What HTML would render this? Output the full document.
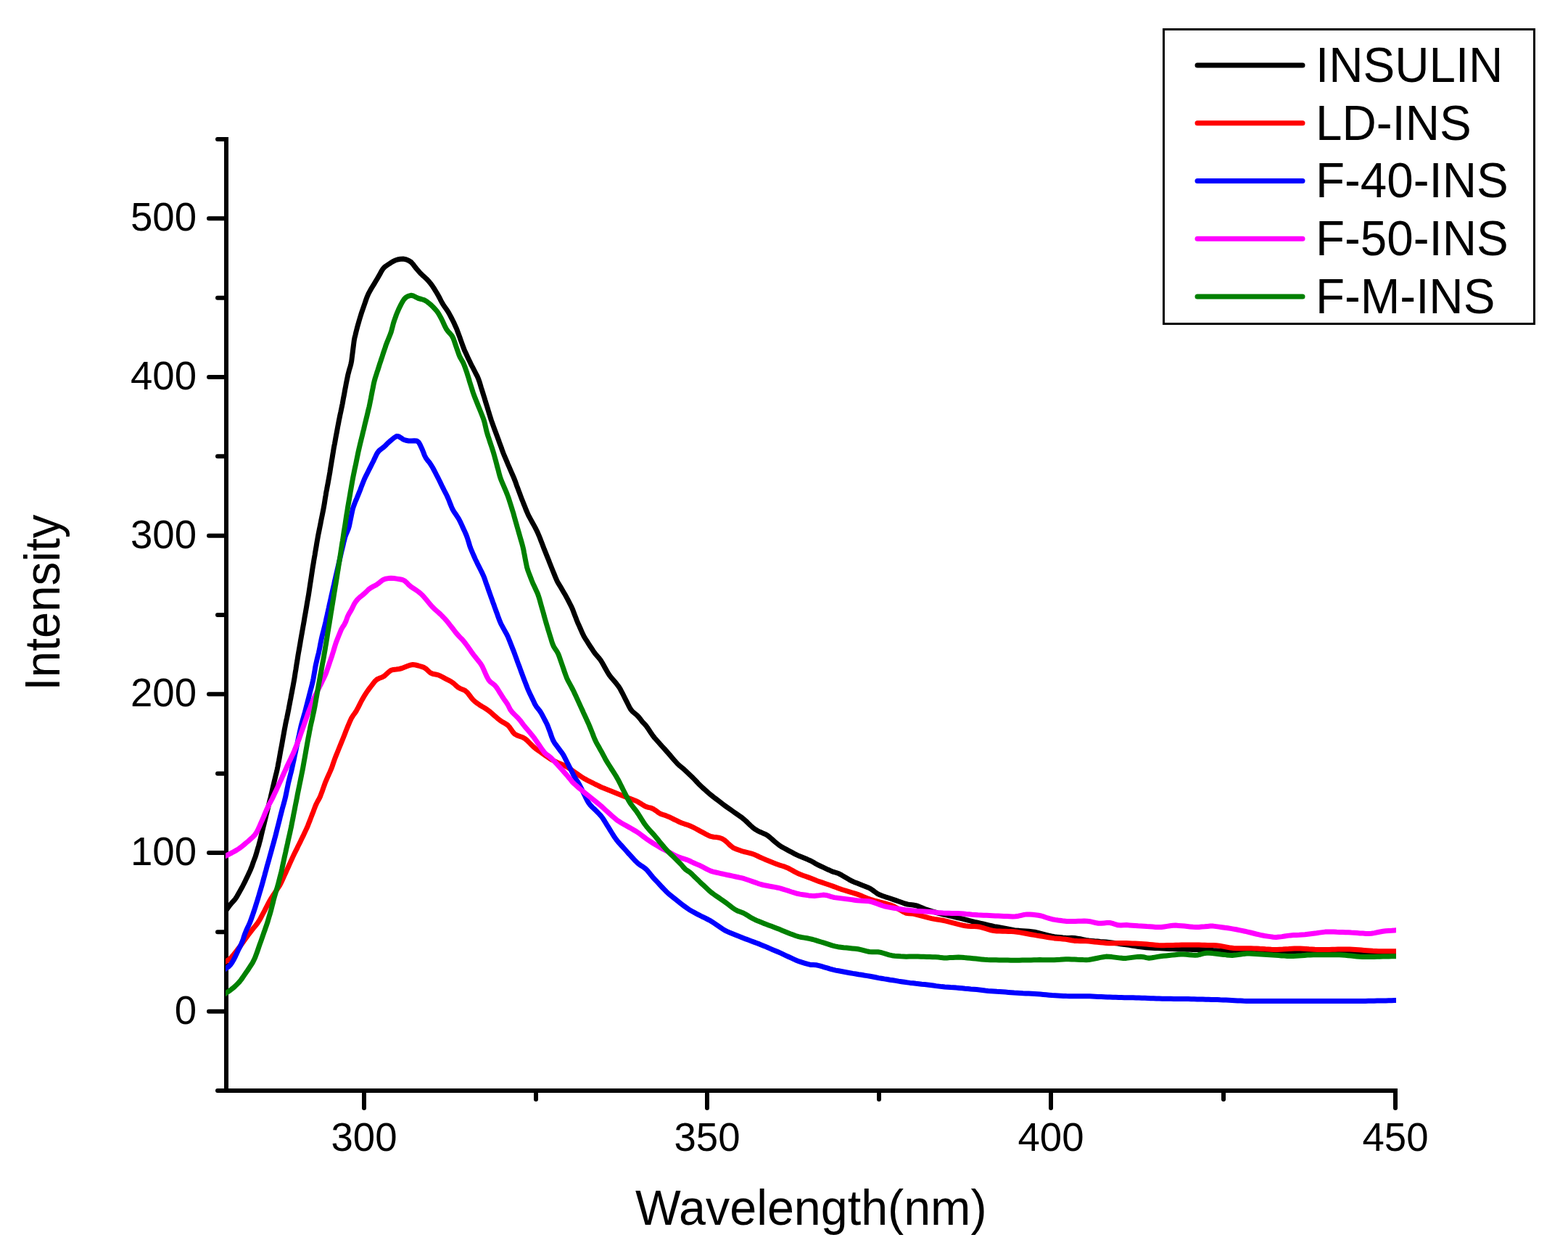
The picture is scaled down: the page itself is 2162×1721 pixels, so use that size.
<!DOCTYPE html>
<html><head><meta charset="utf-8">
<style>html,body{margin:0;padding:0;background:#fff;overflow:hidden}svg{display:block}text{font-family:"Liberation Sans",sans-serif;fill:#000}</style></head><body>
<svg width="2162" height="1721" viewBox="0 0 2162 1721">
<rect width="100%" height="100%" fill="#fff"/>
<defs><clipPath id="pa"><rect x="311" y="0" width="1614" height="1721"/></clipPath></defs>
<g fill="#000" shape-rendering="crispEdges">
<rect x="309" y="189" width="6" height="1318"/>
<rect x="309" y="1501" width="1618" height="6"/>
</g>
<g stroke="#000" stroke-width="6" stroke-linecap="round" fill="none">
<line x1="300" y1="1504.0" x2="312" y2="1504.0"/>
<line x1="288" y1="1394.7" x2="312" y2="1394.7"/>
<line x1="300" y1="1285.3" x2="312" y2="1285.3"/>
<line x1="288" y1="1176.0" x2="312" y2="1176.0"/>
<line x1="300" y1="1066.7" x2="312" y2="1066.7"/>
<line x1="288" y1="957.3" x2="312" y2="957.3"/>
<line x1="300" y1="848.0" x2="312" y2="848.0"/>
<line x1="288" y1="738.7" x2="312" y2="738.7"/>
<line x1="300" y1="629.3" x2="312" y2="629.3"/>
<line x1="288" y1="520.0" x2="312" y2="520.0"/>
<line x1="300" y1="410.7" x2="312" y2="410.7"/>
<line x1="288" y1="301.3" x2="312" y2="301.3"/>
<line x1="300" y1="192.0" x2="312" y2="192.0"/>
<line x1="502" y1="1504" x2="502" y2="1528"/>
<line x1="739" y1="1504" x2="739" y2="1516"/>
<line x1="975" y1="1504" x2="975" y2="1528"/>
<line x1="1212" y1="1504" x2="1212" y2="1516"/>
<line x1="1449" y1="1504" x2="1449" y2="1528"/>
<line x1="1687" y1="1504" x2="1687" y2="1516"/>
<line x1="1924" y1="1504" x2="1924" y2="1528"/>
</g>
<g fill="#000" shape-rendering="crispEdges">
<rect x="309" y="189" width="6" height="1318"/>
<rect x="309" y="1501" width="1618" height="6"/>
</g>
<g clip-path="url(#pa)" fill="none" stroke-width="7" stroke-linejoin="round">
<polyline stroke="#000000" points="306.0,1263.5 307.7,1261.1 309.9,1257.9 312.3,1254.6 314.6,1251.4 317.0,1248.2 319.6,1245.1 322.3,1242.2 324.8,1239.1 326.9,1235.8 328.9,1232.3 330.8,1228.8 332.8,1225.3 334.7,1221.8 336.5,1218.2 338.3,1214.6 340.0,1211.0 341.7,1207.4 343.4,1203.8 345.1,1200.1 346.6,1196.4 348.0,1192.7 349.3,1188.9 350.7,1185.1 352.1,1181.4 353.3,1177.6 354.4,1173.7 355.5,1169.9 356.7,1166.0 357.7,1162.2 358.8,1158.3 359.7,1154.4 360.6,1150.5 361.5,1146.6 362.5,1142.7 363.4,1138.8 364.4,1134.9 365.3,1131.1 366.3,1127.2 367.2,1123.3 368.2,1119.4 369.2,1115.5 370.1,1111.6 371.1,1107.7 372.0,1103.9 373.0,1100.0 373.9,1096.1 374.8,1092.2 375.7,1088.3 376.6,1084.4 377.5,1080.5 378.4,1076.6 379.4,1072.7 380.3,1068.8 381.3,1064.9 382.2,1061.0 383.0,1057.1 383.7,1053.1 384.5,1049.2 385.2,1045.3 385.9,1041.3 386.6,1037.4 387.3,1033.5 388.1,1029.5 388.8,1025.6 389.5,1021.6 390.2,1017.7 390.9,1013.8 391.6,1009.8 392.3,1005.9 393.1,1001.9 393.8,998.0 394.6,994.1 395.5,990.2 396.3,986.3 397.1,982.3 397.9,978.4 398.6,974.5 399.4,970.5 400.1,966.6 400.9,962.7 401.6,958.7 402.4,954.8 403.1,950.9 403.9,946.9 404.6,943.0 405.3,939.1 406.0,935.1 406.6,931.2 407.2,927.2 407.9,923.3 408.5,919.3 409.1,915.4 409.8,911.4 410.4,907.4 411.0,903.5 411.7,899.5 412.4,895.6 413.1,891.7 413.8,887.7 414.4,883.8 415.1,879.8 415.8,875.9 416.5,871.9 417.2,868.0 417.9,864.0 418.6,860.1 419.3,856.2 419.9,852.2 420.6,848.3 421.3,844.3 422.0,840.4 422.7,836.4 423.3,832.5 424.0,828.5 424.7,824.6 425.4,820.6 426.0,816.7 426.6,812.7 427.2,808.8 427.8,804.8 428.4,800.9 429.0,796.9 429.6,792.9 430.2,789.0 430.8,785.0 431.4,781.1 432.1,777.1 432.7,773.2 433.4,769.2 434.1,765.3 434.7,761.3 435.4,757.4 436.1,753.4 436.7,749.5 437.4,745.5 438.1,741.6 438.8,737.7 439.6,733.7 440.4,729.8 441.2,725.9 442.0,722.0 442.7,718.0 443.5,714.1 444.3,710.2 445.1,706.3 445.9,702.3 446.6,698.4 447.3,694.4 447.9,690.5 448.5,686.5 449.2,682.6 449.8,678.6 450.6,674.7 451.3,670.8 452.1,666.8 452.8,662.9 453.5,659.0 454.2,655.0 454.9,651.1 455.5,647.1 456.1,643.2 456.8,639.2 457.4,635.3 458.1,631.3 458.7,627.4 459.4,623.4 460.0,619.5 460.7,615.5 461.5,611.6 462.2,607.6 462.9,603.7 463.6,599.8 464.4,595.8 465.1,591.9 465.8,588.0 466.6,584.0 467.3,580.1 468.1,576.2 468.9,572.2 469.8,568.3 470.6,564.4 471.4,560.5 472.2,556.6 472.9,552.6 473.6,548.7 474.4,544.8 475.1,540.8 475.8,536.9 476.6,532.9 477.3,529.0 478.1,525.1 478.9,521.2 479.7,517.2 480.7,513.4 481.7,509.5 482.9,505.7 483.9,501.8 484.7,497.9 485.2,493.9 485.7,490.0 486.2,486.0 486.7,482.0 487.2,478.0 487.7,474.1 488.2,470.1 488.9,466.2 489.9,462.3 490.8,458.4 491.8,454.5 492.8,450.6 493.9,446.8 495.0,442.9 496.1,439.1 497.3,435.2 498.5,431.4 499.8,427.6 501.1,423.8 502.4,420.1 503.7,416.3 505.0,412.5 506.4,408.8 508.0,405.1 509.9,401.6 511.9,398.1 513.9,394.7 516.0,391.3 518.1,387.8 520.1,384.4 522.1,380.9 524.1,377.4 526.0,373.9 528.1,370.6 530.8,367.8 534.1,365.5 537.4,363.3 540.8,361.1 544.3,359.3 548.0,358.0 551.9,357.2 555.8,357.0 559.7,357.7 563.3,359.2 566.6,361.3 569.3,364.1 571.7,367.3 574.2,370.5 576.8,373.5 579.4,376.5 582.3,379.3 585.3,382.0 588.2,384.7 590.9,387.6 593.5,390.7 595.9,393.9 598.1,397.2 600.2,400.6 602.3,404.0 604.3,407.5 606.2,411.0 608.0,414.6 609.9,418.1 612.0,421.5 614.3,424.7 616.6,428.0 618.7,431.4 620.6,434.9 622.5,438.5 624.3,442.0 626.1,445.6 627.7,449.3 629.4,452.9 630.8,456.7 632.2,460.4 633.6,464.2 634.9,468.0 636.2,471.7 637.6,475.5 639.0,479.3 640.4,483.0 642.1,486.6 643.8,490.3 645.4,493.9 647.2,497.5 648.9,501.1 650.7,504.7 652.6,508.2 654.4,511.8 656.2,515.3 658.1,518.9 659.7,522.6 661.0,526.3 662.2,530.2 663.3,534.0 664.5,537.8 665.7,541.6 666.9,545.5 668.1,549.3 669.2,553.1 670.4,556.9 671.6,560.8 672.8,564.6 673.9,568.4 675.1,572.2 676.3,576.1 677.5,579.9 678.9,583.7 680.2,587.4 681.6,591.2 683.0,594.9 684.4,598.7 685.8,602.4 687.2,606.2 688.5,610.0 689.9,613.7 691.3,617.5 692.6,621.3 694.0,625.0 695.5,628.7 697.1,632.4 698.7,636.1 700.2,639.8 701.8,643.4 703.4,647.1 705.0,650.8 706.6,654.5 708.2,658.1 709.7,661.9 711.1,665.6 712.4,669.4 713.8,673.1 715.2,676.9 716.6,680.6 718.0,684.4 719.4,688.1 720.9,691.8 722.4,695.6 723.9,699.3 725.3,703.0 726.9,706.7 728.5,710.3 730.4,713.9 732.3,717.4 734.3,720.9 736.2,724.4 738.1,727.9 739.9,731.5 741.6,735.1 743.2,738.8 744.7,742.5 746.1,746.2 747.6,750.0 749.0,753.7 750.4,757.4 751.9,761.1 753.4,764.9 754.9,768.6 756.4,772.3 757.8,776.0 759.3,779.7 760.8,783.5 762.3,787.2 763.8,790.9 765.3,794.6 766.8,798.3 768.5,801.9 770.5,805.4 772.6,808.8 774.6,812.3 776.6,815.7 778.7,819.2 780.6,822.7 782.5,826.2 784.3,829.7 786.2,833.3 788.0,836.9 789.6,840.5 791.0,844.3 792.4,848.0 793.9,851.8 795.3,855.5 796.8,859.2 798.5,862.8 800.1,866.5 801.7,870.2 803.3,873.8 805.1,877.4 807.1,880.8 809.3,884.2 811.4,887.6 813.6,891.0 815.8,894.3 818.0,897.7 820.3,900.9 822.9,904.0 825.5,907.0 828.0,910.1 830.1,913.5 832.1,917.0 834.0,920.5 836.0,924.0 837.9,927.4 840.1,930.8 842.5,934.0 845.1,937.0 847.7,940.1 850.2,943.1 852.7,946.3 854.9,949.6 856.7,953.1 858.6,956.7 860.4,960.3 862.2,963.9 864.0,967.4 865.8,971.0 867.6,974.6 869.5,978.0 872.0,981.1 875.0,983.6 878.1,986.1 880.8,989.0 883.3,992.2 885.7,995.3 888.4,998.2 891.1,1001.2 893.4,1004.4 895.6,1007.7 897.8,1011.1 900.1,1014.4 902.5,1017.5 905.2,1020.5 907.9,1023.5 910.5,1026.5 913.2,1029.5 915.9,1032.4 918.5,1035.4 921.2,1038.4 923.8,1041.4 926.4,1044.5 929.0,1047.5 931.7,1050.5 934.4,1053.5 937.3,1056.1 940.4,1058.6 943.4,1061.2 946.4,1064.0 949.3,1066.7 952.2,1069.5 955.1,1072.3 957.9,1075.1 960.6,1078.0 963.3,1081.0 966.2,1083.8 969.1,1086.5 972.1,1089.1 975.1,1091.8 978.1,1094.5 981.2,1097.0 984.3,1099.5 987.5,1101.9 990.7,1104.3 993.9,1106.8 997.1,1109.2 1000.3,1111.6 1003.5,1113.9 1006.8,1116.2 1010.1,1118.5 1013.4,1120.8 1016.7,1123.1 1019.9,1125.4 1023.2,1127.7 1026.3,1130.2 1029.2,1132.9 1032.1,1135.7 1035.0,1138.5 1038.0,1141.2 1041.1,1143.6 1044.5,1145.6 1048.1,1147.3 1051.8,1148.9 1055.5,1150.4 1058.8,1152.5 1061.9,1155.0 1064.9,1157.7 1067.9,1160.3 1071.0,1162.9 1074.1,1165.4 1077.4,1167.6 1080.9,1169.5 1084.4,1171.4 1087.9,1173.3 1091.5,1175.2 1095.0,1177.1 1098.5,1178.9 1102.2,1180.6 1105.9,1182.1 1109.6,1183.6 1113.3,1185.1 1117.0,1186.7 1120.5,1188.5 1123.9,1190.6 1127.4,1192.5 1131.1,1194.2 1134.7,1195.9 1138.3,1197.6 1141.9,1199.3 1145.6,1200.9 1149.3,1202.4 1153.1,1203.5 1156.8,1204.8 1160.3,1206.7 1163.7,1208.7 1167.2,1210.8 1170.6,1212.8 1174.1,1214.7 1177.8,1216.4 1181.5,1217.8 1185.2,1219.3 1188.9,1220.8 1192.7,1222.2 1196.4,1223.7 1200.0,1225.4 1203.3,1227.6 1206.5,1230.0 1209.8,1232.3 1213.3,1234.1 1217.0,1235.5 1220.8,1236.8 1224.6,1238.0 1228.4,1239.3 1232.2,1240.6 1236.0,1241.9 1239.8,1243.2 1243.5,1244.6 1247.3,1246.0 1251.1,1247.0 1255.0,1247.6 1259.0,1248.0 1262.9,1248.7 1266.7,1249.9 1270.4,1251.4 1274.1,1253.0 1277.8,1254.4 1281.6,1255.6 1285.5,1256.8 1289.3,1257.9 1293.1,1259.1 1297.0,1260.1 1300.9,1261.0 1304.8,1261.9 1308.7,1262.8 1312.6,1263.7 1316.5,1264.6 1320.4,1265.5 1324.3,1266.4 1328.2,1267.4 1332.1,1268.4 1335.9,1269.4 1339.8,1270.3 1343.7,1271.3 1347.6,1272.2 1351.5,1273.1 1355.4,1274.0 1359.3,1274.9 1363.2,1275.8 1367.1,1276.7 1371.0,1277.6 1375.0,1278.3 1378.9,1279.0 1382.8,1279.7 1386.8,1280.5 1390.7,1281.2 1394.6,1281.9 1398.6,1282.6 1402.6,1283.1 1406.5,1283.4 1410.5,1283.7 1414.5,1284.0 1418.5,1284.3 1422.5,1284.7 1426.5,1285.2 1430.4,1286.1 1434.2,1287.1 1438.1,1288.1 1442.0,1289.1 1445.9,1290.1 1449.7,1291.0 1453.7,1291.8 1457.6,1292.2 1461.6,1292.6 1465.6,1293.0 1469.6,1293.3 1473.6,1293.4 1477.6,1293.3 1481.5,1293.4 1485.5,1294.1 1489.4,1294.8 1493.3,1295.6 1497.2,1296.4 1501.2,1297.0 1505.2,1297.4 1509.2,1297.8 1513.2,1298.1 1517.1,1298.5 1521.1,1298.8 1525.1,1299.1 1529.1,1299.5 1533.1,1300.0 1537.0,1300.5 1541.0,1301.1 1545.0,1301.7 1548.9,1302.3 1552.9,1302.9 1556.8,1303.4 1560.8,1304.0 1564.8,1304.6 1568.7,1305.2 1572.7,1305.8 1576.7,1306.3 1580.6,1306.8 1584.6,1307.0 1588.6,1307.2 1592.6,1307.4 1596.6,1307.6 1600.6,1307.8 1604.6,1308.0 1608.6,1308.2 1612.6,1308.4 1616.6,1308.6 1620.6,1308.8 1624.6,1308.9 1628.6,1309.0 1632.6,1309.1 1636.6,1309.2 1640.6,1309.3 1644.6,1309.4 1648.6,1309.5 1652.6,1309.5 1656.6,1309.6 1660.6,1309.8 1664.6,1310.0 1668.6,1310.2 1672.6,1310.5 1676.6,1310.7 1680.6,1311.0 1684.6,1311.2 1688.6,1311.4 1692.6,1311.7 1696.6,1311.9 1700.6,1312.1 1704.6,1312.1 1708.6,1312.2 1712.6,1312.2 1716.6,1312.2 1720.6,1312.3 1724.6,1312.3 1728.6,1312.3 1732.6,1312.3 1736.6,1312.4 1740.6,1312.4 1744.6,1312.4 1748.6,1312.5 1752.7,1312.5 1756.7,1312.5 1760.7,1312.6 1764.7,1312.6 1768.7,1312.6 1772.7,1312.7 1776.7,1312.7 1780.7,1312.7 1784.7,1312.8 1788.7,1312.8 1792.7,1312.9 1796.7,1312.9 1800.7,1313.0 1804.7,1313.1 1808.7,1313.1 1812.7,1313.2 1816.7,1313.2 1820.7,1313.3 1824.7,1313.3 1828.7,1313.4 1832.7,1313.4 1836.7,1313.5 1840.7,1313.5 1844.7,1313.6 1848.7,1313.7 1852.7,1313.7 1856.7,1313.8 1860.7,1313.8 1864.7,1313.9 1868.7,1313.9 1872.8,1314.0 1876.8,1314.0 1880.8,1314.1 1884.8,1314.2 1888.8,1314.2 1892.8,1314.3 1896.8,1314.3 1900.8,1314.4 1904.8,1314.4 1908.8,1314.5 1912.8,1314.5 1916.8,1314.6 1920.8,1314.6 1924.8,1314.7 1928.4,1314.7 1929.6,1314.8"/>
<polyline stroke="#ff0000" points="306.0,1328.9 308.6,1327.4 311.9,1325.5 315.3,1323.4 318.4,1320.9 321.0,1317.9 323.5,1314.8 326.0,1311.6 328.4,1308.5 330.8,1305.3 333.2,1302.0 335.5,1298.7 337.8,1295.5 340.2,1292.2 342.5,1289.0 344.9,1285.8 347.4,1282.6 349.8,1279.5 352.4,1276.4 354.9,1273.3 357.1,1269.9 359.1,1266.5 361.0,1262.9 362.9,1259.4 364.8,1255.9 366.6,1252.3 368.4,1248.8 370.3,1245.2 372.2,1241.7 374.2,1238.3 376.4,1234.9 378.6,1231.6 380.9,1228.3 383.1,1224.9 385.3,1221.6 387.2,1218.1 388.9,1214.5 390.6,1210.8 392.2,1207.2 393.9,1203.5 395.5,1199.9 397.2,1196.2 398.8,1192.6 400.5,1188.9 402.1,1185.3 403.8,1181.6 405.5,1178.0 407.3,1174.4 409.1,1170.9 410.8,1167.3 412.6,1163.7 414.4,1160.1 416.1,1156.5 417.9,1152.9 419.6,1149.3 421.3,1145.6 423.0,1142.0 424.6,1138.3 426.0,1134.6 427.5,1130.9 428.9,1127.1 430.3,1123.4 431.8,1119.7 433.2,1115.9 434.6,1112.2 436.2,1108.5 438.0,1105.0 440.0,1101.5 441.7,1097.9 443.1,1094.1 444.5,1090.4 445.8,1086.6 447.2,1082.8 448.5,1079.1 450.1,1075.4 451.7,1071.7 453.3,1068.1 455.0,1064.4 456.6,1060.7 458.0,1057.0 459.3,1053.2 460.6,1049.4 461.9,1045.7 463.4,1041.9 464.9,1038.2 466.4,1034.5 467.9,1030.8 469.4,1027.1 470.9,1023.4 472.4,1019.7 473.9,1016.0 475.4,1012.2 476.8,1008.5 478.3,1004.8 479.8,1001.1 481.4,997.4 483.0,993.7 484.7,990.1 486.8,986.8 489.2,983.5 491.4,980.2 493.3,976.7 495.1,973.1 496.9,969.5 498.7,966.0 500.7,962.5 502.7,959.1 504.9,955.7 507.1,952.4 509.5,949.2 511.9,946.0 514.3,942.8 516.8,939.6 519.6,937.0 523.0,935.3 526.7,934.0 530.0,932.1 533.0,929.4 535.9,926.7 539.0,924.4 542.6,923.4 546.5,923.0 550.4,922.5 554.3,921.5 558.0,920.1 561.8,918.6 565.4,917.2 569.2,916.5 573.0,917.0 576.9,918.0 580.7,919.1 584.5,920.4 587.7,922.5 590.5,925.2 593.3,927.8 596.7,929.3 600.6,930.0 604.4,930.9 608.0,932.5 611.5,934.4 615.1,936.3 618.7,938.1 622.2,940.0 625.4,942.3 628.3,945.0 631.3,947.6 634.6,949.5 638.3,950.9 641.8,952.7 644.7,955.4 647.1,958.5 649.5,961.7 652.0,964.8 654.9,967.5 658.1,969.9 661.4,972.2 664.7,974.3 668.2,976.3 671.6,978.4 674.7,980.8 677.8,983.4 680.8,986.1 683.8,988.7 686.8,991.3 690.0,993.8 693.4,995.9 696.9,997.8 700.1,1000.0 702.7,1002.9 705.0,1006.2 707.2,1009.5 709.8,1012.3 713.1,1014.1 716.9,1015.5 720.6,1016.8 724.0,1018.8 727.0,1021.3 729.8,1024.1 732.7,1027.0 735.5,1029.8 738.6,1032.4 741.8,1034.7 745.1,1037.0 748.4,1039.3 751.6,1041.6 754.9,1043.9 758.2,1046.2 761.6,1048.2 765.2,1049.9 768.9,1051.6 772.6,1053.2 776.2,1054.8 779.8,1056.5 783.3,1058.5 786.6,1060.7 789.9,1063.0 793.2,1065.3 796.5,1067.6 799.7,1069.9 803.1,1072.1 806.5,1074.2 810.0,1076.1 813.6,1077.9 817.2,1079.7 820.7,1081.5 824.3,1083.2 827.9,1085.0 831.6,1086.6 835.3,1088.1 839.0,1089.5 842.8,1091.0 846.5,1092.5 850.2,1094.0 853.9,1095.5 857.6,1097.0 861.4,1098.5 865.1,1099.9 868.8,1101.3 872.6,1102.8 876.3,1104.2 879.9,1105.9 883.3,1108.0 886.6,1110.2 890.1,1112.1 893.8,1113.3 897.7,1114.2 901.2,1115.8 904.5,1118.0 907.7,1120.4 911.1,1122.4 914.8,1123.7 918.6,1124.9 922.3,1126.4 925.9,1128.2 929.5,1130.0 933.1,1131.7 936.7,1133.5 940.3,1135.0 944.1,1136.3 947.9,1137.5 951.7,1139.0 955.3,1140.6 958.9,1142.5 962.4,1144.4 965.9,1146.3 969.4,1148.2 972.9,1150.1 976.5,1151.9 980.1,1153.4 984.0,1154.2 988.0,1154.6 991.9,1155.2 995.5,1156.5 998.9,1158.5 1002.0,1161.1 1004.8,1163.9 1007.7,1166.6 1010.8,1169.0 1014.4,1170.6 1018.2,1172.0 1021.9,1173.3 1025.8,1174.5 1029.6,1175.4 1033.5,1176.3 1037.4,1177.4 1041.1,1178.8 1044.7,1180.5 1048.3,1182.3 1052.0,1183.9 1055.7,1185.5 1059.4,1187.0 1063.1,1188.5 1066.8,1190.0 1070.5,1191.4 1074.3,1192.8 1078.1,1194.0 1081.9,1195.2 1085.6,1196.7 1089.2,1198.5 1092.6,1200.4 1096.1,1202.4 1099.7,1204.2 1103.4,1205.8 1107.1,1207.2 1110.9,1208.5 1114.7,1209.9 1118.4,1211.3 1122.1,1212.8 1125.8,1214.3 1129.6,1215.7 1133.4,1216.9 1137.2,1218.2 1141.0,1219.5 1144.7,1220.8 1148.5,1222.1 1152.3,1223.5 1156.0,1224.9 1159.8,1226.3 1163.6,1227.5 1167.4,1228.7 1171.3,1229.8 1175.1,1231.0 1178.9,1232.2 1182.7,1233.4 1186.5,1234.8 1190.2,1236.4 1193.9,1237.9 1197.6,1239.4 1201.4,1240.7 1205.2,1241.8 1209.1,1242.8 1212.9,1243.9 1216.8,1244.9 1220.7,1245.9 1224.5,1247.0 1228.4,1248.1 1232.0,1249.7 1235.5,1251.6 1239.0,1253.6 1242.4,1255.6 1245.9,1257.6 1249.5,1259.2 1253.3,1259.7 1257.3,1259.9 1261.2,1260.6 1265.0,1261.6 1268.9,1262.6 1272.8,1263.6 1276.6,1264.6 1280.5,1265.7 1284.4,1266.6 1288.3,1267.4 1292.3,1268.0 1296.2,1268.6 1300.2,1269.3 1304.1,1270.1 1308.0,1271.1 1311.8,1272.1 1315.7,1273.1 1319.6,1274.1 1323.5,1275.1 1327.4,1276.0 1331.3,1276.8 1335.2,1277.2 1339.2,1277.4 1343.2,1277.5 1347.2,1277.7 1351.2,1278.3 1355.0,1279.3 1358.8,1280.5 1362.6,1281.7 1366.5,1282.8 1370.4,1283.6 1374.3,1283.9 1378.3,1284.0 1382.3,1284.2 1386.3,1284.3 1390.3,1284.5 1394.4,1284.6 1398.3,1284.8 1402.3,1285.3 1406.3,1285.9 1410.2,1286.6 1414.1,1287.3 1418.1,1288.0 1422.0,1288.7 1426.0,1289.4 1429.9,1290.1 1433.9,1290.7 1437.8,1291.4 1441.8,1292.1 1445.7,1292.7 1449.7,1293.4 1453.6,1293.9 1457.6,1294.3 1461.6,1294.6 1465.6,1294.9 1469.6,1295.3 1473.5,1296.0 1477.4,1296.8 1481.4,1297.4 1485.3,1297.6 1489.3,1297.7 1493.3,1297.7 1497.3,1297.8 1501.3,1298.1 1505.3,1298.5 1509.3,1298.9 1513.3,1299.3 1517.3,1299.7 1521.3,1300.0 1525.2,1300.4 1529.2,1300.7 1533.2,1300.8 1537.2,1300.7 1541.2,1300.6 1545.2,1300.5 1549.2,1300.5 1553.2,1300.6 1557.2,1300.7 1561.2,1300.9 1565.2,1301.1 1569.2,1301.3 1573.2,1301.5 1577.2,1301.7 1581.2,1302.0 1585.2,1302.4 1589.2,1302.8 1593.2,1303.2 1597.2,1303.6 1601.2,1303.8 1605.2,1303.7 1609.2,1303.6 1613.2,1303.5 1617.2,1303.4 1621.2,1303.3 1625.2,1303.2 1629.2,1303.1 1633.2,1303.0 1637.2,1302.9 1641.2,1302.9 1645.2,1302.9 1649.2,1303.0 1653.2,1303.1 1657.2,1303.2 1661.2,1303.3 1665.2,1303.4 1669.2,1303.5 1673.2,1303.6 1677.2,1303.8 1681.2,1304.2 1685.1,1304.9 1689.0,1305.6 1693.0,1306.4 1696.9,1307.1 1700.9,1307.5 1704.9,1307.7 1708.9,1307.7 1712.9,1307.7 1716.9,1307.8 1720.9,1307.8 1724.9,1307.8 1728.9,1307.9 1732.9,1308.0 1736.9,1308.3 1740.9,1308.5 1744.9,1308.8 1748.9,1309.0 1752.9,1309.3 1756.9,1309.5 1760.9,1309.5 1764.9,1309.3 1768.8,1309.1 1772.8,1308.8 1776.8,1308.6 1780.8,1308.3 1784.8,1308.1 1788.8,1308.0 1792.8,1308.1 1796.8,1308.3 1800.8,1308.5 1804.8,1308.8 1808.8,1309.0 1812.8,1309.3 1816.8,1309.5 1820.8,1309.6 1824.8,1309.6 1828.8,1309.5 1832.8,1309.4 1836.8,1309.3 1840.8,1309.2 1844.8,1309.1 1848.8,1309.0 1852.8,1308.9 1856.8,1308.9 1860.8,1309.0 1864.8,1309.2 1868.8,1309.5 1872.8,1309.8 1876.8,1310.1 1880.8,1310.4 1884.8,1310.7 1888.8,1311.0 1892.8,1311.3 1896.8,1311.5 1900.8,1311.7 1904.8,1311.7 1908.8,1311.7 1912.8,1311.7 1916.8,1311.7 1920.8,1311.7 1924.8,1311.7 1928.4,1311.7 1929.6,1311.7"/>
<polyline stroke="#0000ff" points="306.0,1339.3 308.4,1337.6 311.7,1335.5 314.9,1333.2 317.7,1330.5 320.0,1327.2 322.0,1323.8 323.9,1320.2 325.6,1316.6 327.2,1313.0 328.9,1309.3 330.7,1305.8 332.5,1302.2 334.1,1298.5 335.4,1294.8 336.6,1290.9 337.9,1287.2 339.4,1283.5 341.1,1279.8 342.8,1276.2 344.4,1272.6 345.9,1268.8 347.2,1265.0 348.5,1261.3 349.8,1257.5 351.1,1253.7 352.3,1249.9 353.5,1246.0 354.7,1242.2 355.9,1238.4 357.0,1234.6 358.1,1230.7 359.3,1226.9 360.4,1223.0 361.5,1219.2 362.6,1215.3 363.6,1211.5 364.7,1207.6 365.7,1203.7 366.8,1199.9 367.8,1196.0 368.9,1192.1 370.0,1188.3 371.1,1184.4 372.1,1180.6 373.2,1176.7 374.3,1172.8 375.3,1169.0 376.4,1165.1 377.5,1161.3 378.5,1157.4 379.6,1153.5 380.6,1149.7 381.5,1145.8 382.5,1141.9 383.5,1138.0 384.5,1134.1 385.5,1130.2 386.4,1126.3 387.4,1122.5 388.4,1118.6 389.4,1114.7 390.5,1110.9 391.6,1107.0 392.6,1103.1 393.6,1099.2 394.4,1095.3 395.2,1091.4 396.0,1087.5 396.8,1083.6 397.6,1079.6 398.6,1075.7 399.5,1071.9 400.5,1068.0 401.5,1064.1 402.4,1060.2 403.3,1056.3 404.1,1052.4 405.0,1048.5 405.8,1044.5 406.6,1040.6 407.5,1036.7 408.3,1032.8 409.1,1028.9 410.0,1025.0 410.8,1021.0 411.6,1017.1 412.5,1013.2 413.3,1009.3 414.2,1005.4 415.0,1001.5 416.0,997.6 417.1,993.7 418.2,989.9 419.3,986.0 420.4,982.2 421.4,978.3 422.4,974.4 423.4,970.5 424.4,966.7 425.4,962.8 426.4,958.9 427.4,955.0 428.4,951.2 429.4,947.3 430.4,943.4 431.3,939.5 432.1,935.6 432.8,931.6 433.5,927.7 434.2,923.7 434.8,919.8 435.6,915.9 436.5,911.9 437.4,908.1 438.4,904.2 439.4,900.3 440.2,896.4 441.0,892.4 441.7,888.5 442.5,884.6 443.3,880.7 444.2,876.8 445.2,872.9 446.2,869.0 447.2,865.1 448.2,861.2 449.1,857.3 449.9,853.4 450.8,849.5 451.7,845.6 452.5,841.7 453.4,837.8 454.2,833.9 455.1,830.0 456.0,826.0 456.8,822.1 457.7,818.2 458.6,814.3 459.5,810.4 460.4,806.5 461.2,802.6 462.1,798.7 463.0,794.8 463.9,790.9 464.8,787.0 465.7,783.1 466.6,779.2 467.5,775.3 468.4,771.4 469.3,767.5 470.2,763.6 471.1,759.7 472.1,755.8 473.0,751.9 473.9,748.0 474.9,744.1 475.9,740.2 477.3,736.5 478.9,732.8 480.4,729.1 481.5,725.3 482.3,721.4 483.1,717.4 483.9,713.5 484.7,709.6 485.5,705.7 486.4,701.8 487.6,698.0 489.0,694.2 490.5,690.5 492.1,686.8 493.6,683.1 495.1,679.4 496.6,675.7 498.0,671.9 499.4,668.2 500.9,664.5 502.4,660.8 504.1,657.1 505.9,653.6 507.7,650.0 509.5,646.4 511.3,642.9 513.1,639.3 514.9,635.7 516.6,632.0 518.3,628.4 520.1,624.9 522.4,621.8 525.5,619.3 528.7,616.9 531.6,614.3 534.4,611.4 537.3,608.7 540.4,606.1 543.5,603.6 546.6,601.6 549.6,601.7 552.7,603.7 555.9,605.9 559.6,607.3 563.5,608.0 567.4,608.1 571.3,607.8 574.8,607.9 577.3,609.9 579.2,613.3 580.9,616.9 582.5,620.5 584.0,624.3 585.4,628.0 587.2,631.5 589.5,634.7 592.1,637.8 594.3,641.1 596.4,644.5 598.3,648.0 600.2,651.6 602.0,655.2 603.8,658.7 605.6,662.3 607.4,665.9 609.1,669.5 610.9,673.1 612.7,676.7 614.5,680.2 616.3,683.8 618.0,687.5 619.5,691.2 620.9,694.9 622.4,698.6 624.0,702.3 626.0,705.7 628.3,709.0 630.5,712.4 632.6,715.7 634.5,719.3 636.2,722.9 637.8,726.5 639.5,730.2 641.2,733.8 642.8,737.5 644.2,741.2 645.4,745.0 646.6,748.9 647.7,752.7 649.1,756.5 650.6,760.2 652.2,763.8 653.8,767.5 655.4,771.2 657.2,774.8 658.9,778.4 660.7,781.9 662.5,785.5 664.3,789.1 666.0,792.7 667.6,796.4 668.9,800.2 670.2,804.0 671.6,807.7 672.9,811.5 674.2,815.3 675.6,819.1 676.9,822.8 678.3,826.6 679.6,830.4 681.0,834.1 682.3,837.9 683.7,841.7 685.1,845.4 686.4,849.2 687.8,853.0 689.2,856.7 690.8,860.4 692.7,863.9 694.6,867.4 696.6,870.9 698.5,874.4 700.3,878.0 701.8,881.7 703.3,885.4 704.7,889.1 706.2,892.9 707.7,896.6 709.1,900.3 710.5,904.1 711.9,907.9 713.2,911.6 714.6,915.4 716.0,919.1 717.4,922.9 718.8,926.7 720.2,930.4 721.6,934.2 723.0,937.9 724.4,941.6 725.9,945.4 727.3,949.1 728.9,952.8 730.6,956.4 732.3,960.0 734.0,963.6 735.8,967.3 737.5,970.9 739.5,974.3 741.9,977.4 744.4,980.5 746.5,983.8 748.4,987.4 750.2,990.9 752.1,994.5 753.9,998.0 755.5,1001.7 756.9,1005.4 758.3,1009.2 759.6,1013.0 760.9,1016.8 762.4,1020.5 764.3,1023.9 766.6,1027.2 769.0,1030.4 771.4,1033.6 773.8,1036.8 776.1,1040.1 778.1,1043.6 779.9,1047.1 781.7,1050.7 783.5,1054.3 785.3,1057.8 787.1,1061.4 788.9,1065.0 790.7,1068.6 792.6,1072.1 794.7,1075.5 797.0,1078.8 799.0,1082.2 800.8,1085.8 802.6,1089.4 804.3,1093.0 806.1,1096.6 807.8,1100.2 809.6,1103.8 811.6,1107.2 814.0,1110.3 816.8,1113.2 819.7,1115.9 822.6,1118.7 825.4,1121.6 828.1,1124.5 830.6,1127.6 832.8,1131.0 834.9,1134.4 837.0,1137.8 839.1,1141.2 841.2,1144.6 843.3,1148.0 845.4,1151.4 847.6,1154.8 849.9,1158.0 852.4,1161.1 855.1,1164.1 857.8,1167.0 860.5,1170.0 863.2,1173.0 865.8,1176.0 868.5,1178.9 871.2,1181.9 873.9,1184.8 876.7,1187.8 879.5,1190.5 882.7,1192.9 886.1,1195.0 889.3,1197.3 892.2,1200.1 894.7,1203.1 897.3,1206.2 899.8,1209.3 902.5,1212.3 905.2,1215.2 908.0,1218.1 910.7,1221.1 913.4,1224.0 916.2,1226.9 919.0,1229.8 921.9,1232.5 925.0,1235.0 928.1,1237.5 931.3,1240.0 934.4,1242.5 937.5,1245.0 940.7,1247.5 943.9,1249.9 947.1,1252.2 950.4,1254.5 953.9,1256.5 957.4,1258.4 960.9,1260.3 964.5,1262.2 968.0,1264.0 971.6,1265.7 975.2,1267.5 978.8,1269.3 982.2,1271.4 985.5,1273.6 988.8,1275.9 992.1,1278.2 995.4,1280.4 998.8,1282.6 1002.3,1284.4 1006.0,1286.0 1009.7,1287.5 1013.4,1289.0 1017.2,1290.5 1020.9,1291.9 1024.6,1293.4 1028.3,1294.9 1032.1,1296.3 1035.8,1297.7 1039.6,1299.1 1043.3,1300.5 1047.1,1301.9 1050.8,1303.4 1054.5,1304.9 1058.2,1306.5 1061.9,1308.1 1065.5,1309.7 1069.2,1311.2 1072.9,1312.8 1076.6,1314.4 1080.2,1316.1 1083.8,1317.8 1087.5,1319.5 1091.1,1321.2 1094.7,1322.9 1098.4,1324.5 1102.1,1325.9 1105.9,1327.1 1109.8,1328.3 1113.6,1329.4 1117.4,1330.4 1121.4,1330.6 1125.3,1330.8 1129.2,1331.6 1133.0,1332.7 1136.8,1333.8 1140.7,1334.9 1144.5,1336.1 1148.4,1337.2 1152.3,1338.1 1156.2,1338.8 1160.1,1339.5 1164.1,1340.3 1168.0,1341.0 1172.0,1341.7 1175.9,1342.4 1179.9,1343.0 1183.8,1343.7 1187.8,1344.3 1191.7,1345.0 1195.7,1345.6 1199.6,1346.3 1203.6,1347.0 1207.5,1347.8 1211.4,1348.6 1215.4,1349.2 1219.3,1349.9 1223.3,1350.5 1227.2,1351.2 1231.2,1351.8 1235.1,1352.4 1239.1,1353.1 1243.1,1353.7 1247.0,1354.3 1251.0,1354.9 1254.9,1355.4 1258.9,1355.8 1262.9,1356.3 1266.9,1356.7 1270.9,1357.2 1274.8,1357.6 1278.8,1358.0 1282.8,1358.5 1286.8,1359.0 1290.7,1359.6 1294.7,1360.1 1298.7,1360.6 1302.7,1361.0 1306.7,1361.2 1310.7,1361.5 1314.7,1361.7 1318.6,1362.1 1322.6,1362.4 1326.6,1362.8 1330.6,1363.2 1334.6,1363.5 1338.6,1363.9 1342.6,1364.2 1346.6,1364.6 1350.5,1365.0 1354.5,1365.5 1358.5,1366.0 1362.5,1366.4 1366.5,1366.7 1370.5,1367.0 1374.5,1367.3 1378.5,1367.5 1382.5,1367.8 1386.4,1368.1 1390.4,1368.4 1394.4,1368.7 1398.4,1369.0 1402.4,1369.2 1406.4,1369.4 1410.4,1369.7 1414.4,1369.9 1418.4,1370.1 1422.4,1370.3 1426.4,1370.5 1430.4,1370.7 1434.4,1371.0 1438.4,1371.4 1442.4,1371.8 1446.4,1372.2 1450.4,1372.6 1454.4,1372.8 1458.4,1373.0 1462.4,1373.2 1466.4,1373.4 1470.4,1373.6 1474.4,1373.7 1478.4,1373.7 1482.4,1373.7 1486.4,1373.7 1490.4,1373.7 1494.4,1373.7 1498.4,1373.7 1502.4,1373.8 1506.4,1374.0 1510.4,1374.2 1514.4,1374.4 1518.4,1374.5 1522.4,1374.7 1526.4,1374.9 1530.4,1375.0 1534.4,1375.2 1538.4,1375.3 1542.4,1375.5 1546.4,1375.6 1550.4,1375.7 1554.4,1375.7 1558.4,1375.7 1562.4,1375.7 1566.4,1375.9 1570.4,1376.0 1574.4,1376.2 1578.4,1376.3 1582.4,1376.5 1586.4,1376.7 1590.4,1376.8 1594.4,1377.0 1598.4,1377.1 1602.4,1377.2 1606.5,1377.3 1610.5,1377.3 1614.5,1377.3 1618.5,1377.4 1622.5,1377.4 1626.5,1377.5 1630.5,1377.5 1634.5,1377.5 1638.5,1377.6 1642.5,1377.7 1646.5,1377.8 1650.5,1377.9 1654.5,1378.0 1658.5,1378.1 1662.5,1378.2 1666.5,1378.3 1670.5,1378.4 1674.5,1378.5 1678.5,1378.6 1682.5,1378.8 1686.5,1378.9 1690.5,1379.1 1694.5,1379.3 1698.5,1379.5 1702.5,1379.7 1706.5,1379.9 1710.5,1380.1 1714.5,1380.3 1718.5,1380.4 1722.5,1380.5 1726.5,1380.5 1730.6,1380.5 1734.6,1380.5 1738.6,1380.5 1742.6,1380.5 1746.6,1380.5 1750.6,1380.5 1754.6,1380.5 1758.6,1380.5 1762.6,1380.5 1766.6,1380.5 1770.6,1380.5 1774.6,1380.5 1778.6,1380.5 1782.6,1380.5 1786.6,1380.5 1790.6,1380.5 1794.6,1380.5 1798.6,1380.5 1802.6,1380.5 1806.7,1380.5 1810.7,1380.5 1814.7,1380.5 1818.7,1380.5 1822.7,1380.5 1826.7,1380.5 1830.7,1380.5 1834.7,1380.5 1838.7,1380.5 1842.7,1380.5 1846.7,1380.5 1850.7,1380.5 1854.7,1380.5 1858.7,1380.5 1862.7,1380.5 1866.7,1380.5 1870.7,1380.5 1874.7,1380.5 1878.7,1380.5 1882.7,1380.4 1886.8,1380.3 1890.8,1380.3 1894.8,1380.2 1898.8,1380.1 1902.8,1380.0 1906.8,1380.0 1910.8,1379.9 1914.8,1379.8 1918.8,1379.7 1922.8,1379.6 1926.7,1379.6 1929.6,1379.5"/>
<polyline stroke="#ff00ff" points="306.3,1182.7 309.0,1181.4 312.5,1179.6 316.0,1177.8 319.6,1176.0 323.1,1174.1 326.6,1172.1 330.0,1169.9 333.2,1167.5 336.3,1165.0 339.3,1162.4 342.4,1159.9 345.4,1157.2 348.4,1154.5 351.1,1151.6 353.4,1148.4 355.3,1144.9 357.0,1141.3 358.6,1137.6 360.2,1133.9 361.8,1130.3 363.4,1126.6 364.9,1122.9 366.5,1119.2 368.1,1115.5 369.8,1111.9 371.6,1108.3 373.5,1104.8 375.4,1101.3 377.1,1097.7 378.8,1094.0 380.5,1090.4 382.2,1086.8 383.9,1083.1 385.5,1079.5 387.2,1075.9 388.9,1072.2 390.5,1068.5 392.1,1064.9 393.8,1061.2 395.4,1057.6 397.1,1054.0 398.9,1050.3 400.6,1046.7 402.3,1043.1 404.0,1039.5 405.6,1035.8 407.1,1032.1 408.6,1028.4 410.1,1024.7 411.6,1020.9 413.0,1017.2 414.3,1013.4 415.6,1009.6 417.0,1005.8 418.3,1002.1 419.6,998.3 420.9,994.5 422.3,990.7 423.6,986.9 424.9,983.2 426.3,979.4 427.8,975.7 429.2,971.9 430.7,968.2 432.3,964.5 433.8,960.8 435.6,957.2 437.3,953.6 439.1,950.0 440.9,946.5 442.7,942.9 444.4,939.3 446.2,935.7 447.9,932.1 449.5,928.4 450.8,924.6 452.1,920.8 453.4,917.0 454.7,913.2 456.0,909.4 457.3,905.6 458.5,901.8 459.7,898.0 460.8,894.2 462.0,890.3 463.2,886.5 464.6,882.8 466.1,879.0 467.6,875.3 469.1,871.6 470.6,867.9 472.6,864.5 474.8,861.2 476.6,857.7 478.0,853.9 479.3,850.2 481.1,846.6 483.2,843.2 485.1,839.8 486.8,836.2 488.6,832.6 490.8,829.3 493.3,826.2 496.2,823.5 499.4,821.0 502.4,818.5 505.3,815.7 508.1,812.9 511.3,810.6 514.8,808.7 518.4,806.9 521.6,804.7 524.7,802.1 527.8,799.8 531.4,798.3 535.3,797.6 539.2,797.3 543.2,797.5 547.2,798.1 551.1,798.7 555.0,799.5 558.3,801.2 561.2,803.9 563.9,806.8 566.9,809.3 570.3,811.5 573.6,813.7 576.9,816.0 580.0,818.5 582.9,821.2 585.5,824.2 588.1,827.3 590.6,830.4 593.2,833.5 595.8,836.5 598.6,839.3 601.6,842.0 604.6,844.6 607.6,847.4 610.4,850.2 613.2,853.1 615.9,856.1 618.4,859.2 620.8,862.3 623.3,865.5 625.7,868.7 628.1,871.9 630.7,874.9 633.4,877.9 636.2,880.7 638.9,883.7 641.4,886.8 643.8,890.0 646.1,893.3 648.4,896.6 650.7,899.9 653.1,903.1 655.6,906.2 658.1,909.4 660.6,912.5 663.0,915.7 665.0,919.1 666.7,922.7 668.3,926.4 669.9,930.1 671.6,933.7 673.5,937.2 676.0,940.2 679.1,942.6 682.2,945.0 684.7,948.0 686.9,951.4 689.0,954.8 691.1,958.2 693.2,961.6 695.5,964.9 697.8,968.1 700.0,971.5 701.8,975.0 703.6,978.6 705.9,981.7 708.7,984.6 711.5,987.4 714.4,990.2 717.0,993.2 719.4,996.4 721.8,999.6 724.3,1002.7 726.9,1005.8 729.5,1008.8 732.1,1011.9 734.6,1015.0 737.0,1018.2 739.3,1021.5 741.5,1024.8 743.8,1028.1 746.1,1031.4 748.4,1034.7 750.8,1037.9 753.6,1040.5 756.9,1042.7 759.9,1045.2 762.7,1048.1 765.4,1051.0 768.1,1054.0 770.8,1057.0 773.5,1059.9 776.2,1062.9 778.8,1065.9 781.5,1068.9 784.0,1072.0 786.6,1075.1 789.1,1078.2 791.9,1081.0 794.9,1083.7 797.9,1086.3 801.0,1088.9 804.0,1091.4 807.1,1094.0 810.3,1096.5 813.4,1099.0 816.5,1101.5 819.7,1104.0 822.8,1106.5 825.9,1109.0 829.0,1111.6 831.9,1114.3 834.8,1117.0 837.8,1119.7 840.8,1122.4 843.8,1125.1 846.8,1127.7 849.9,1130.3 853.1,1132.6 856.5,1134.7 860.0,1136.7 863.5,1138.6 867.0,1140.6 870.4,1142.6 873.9,1144.6 877.4,1146.6 880.7,1148.8 883.9,1151.2 887.1,1153.6 890.3,1156.1 893.6,1158.3 896.9,1160.5 900.3,1162.7 903.7,1164.8 907.1,1166.8 910.6,1168.9 914.1,1170.8 917.7,1172.6 921.2,1174.5 924.8,1176.4 928.3,1178.3 931.9,1180.1 935.5,1181.7 939.3,1183.1 943.1,1184.3 946.9,1185.6 950.6,1187.0 954.2,1188.8 957.8,1190.5 961.5,1192.1 965.1,1193.6 968.7,1195.4 972.3,1197.3 975.8,1199.2 979.4,1200.9 983.2,1202.1 987.1,1203.0 991.0,1203.9 994.9,1204.8 998.8,1205.6 1002.7,1206.5 1006.6,1207.3 1010.5,1208.1 1014.5,1209.0 1018.4,1209.8 1022.3,1210.7 1026.2,1211.7 1030.0,1213.0 1033.7,1214.3 1037.5,1215.6 1041.3,1216.9 1045.1,1218.3 1048.9,1219.5 1052.8,1220.5 1056.7,1221.2 1060.6,1222.0 1064.6,1222.7 1068.5,1223.4 1072.4,1224.2 1076.3,1225.1 1080.2,1226.3 1084.0,1227.5 1087.8,1228.7 1091.6,1230.0 1095.4,1231.2 1099.2,1232.3 1103.2,1233.1 1107.1,1233.7 1111.1,1234.3 1115.0,1234.9 1119.0,1235.3 1123.0,1235.4 1127.0,1235.1 1131.0,1234.6 1134.9,1234.1 1138.8,1234.4 1142.6,1235.4 1146.4,1236.7 1150.3,1237.6 1154.2,1238.1 1158.2,1238.6 1162.2,1239.1 1166.1,1239.6 1170.1,1240.1 1174.1,1240.6 1178.1,1241.2 1182.0,1241.7 1186.0,1242.0 1190.0,1242.3 1194.0,1242.5 1198.0,1242.8 1201.9,1243.6 1205.7,1244.9 1209.4,1246.2 1213.2,1247.6 1217.0,1249.0 1220.8,1250.1 1224.7,1250.9 1228.6,1251.6 1232.6,1252.3 1236.5,1252.9 1240.5,1253.5 1244.5,1254.2 1248.4,1254.8 1252.4,1255.2 1256.4,1255.6 1260.4,1255.9 1264.4,1256.2 1268.4,1256.4 1272.4,1256.7 1276.4,1257.0 1280.4,1257.3 1284.3,1257.6 1288.3,1258.0 1292.3,1258.4 1296.3,1258.7 1300.3,1259.0 1304.3,1259.2 1308.3,1259.3 1312.3,1259.4 1316.3,1259.5 1320.3,1259.6 1324.3,1259.8 1328.3,1260.1 1332.3,1260.5 1336.3,1260.8 1340.3,1261.2 1344.3,1261.5 1348.3,1261.8 1352.3,1262.0 1356.3,1262.2 1360.3,1262.3 1364.3,1262.5 1368.3,1262.7 1372.3,1262.9 1376.3,1263.1 1380.3,1263.3 1384.3,1263.5 1388.3,1263.6 1392.3,1263.8 1396.3,1264.0 1400.3,1263.8 1404.2,1263.2 1408.1,1262.3 1412.0,1261.4 1415.9,1260.9 1419.9,1261.0 1423.9,1261.3 1427.9,1261.7 1431.8,1262.2 1435.7,1263.0 1439.5,1264.2 1443.3,1265.5 1447.1,1266.7 1451.0,1267.7 1454.9,1268.4 1458.9,1269.0 1462.9,1269.5 1466.8,1270.1 1470.8,1270.5 1474.8,1270.6 1478.8,1270.5 1482.8,1270.4 1486.8,1270.3 1490.8,1270.2 1494.8,1270.1 1498.8,1270.2 1502.8,1270.7 1506.7,1271.6 1510.6,1272.5 1514.5,1273.2 1518.4,1273.3 1522.4,1272.9 1526.3,1272.5 1530.2,1272.5 1534.1,1273.4 1537.9,1274.7 1541.6,1275.8 1545.5,1276.1 1549.4,1275.7 1553.3,1275.6 1557.3,1275.9 1561.3,1276.2 1565.3,1276.5 1569.3,1276.8 1573.3,1277.0 1577.3,1277.3 1581.3,1277.6 1585.3,1277.8 1589.3,1278.1 1593.3,1278.4 1597.3,1278.6 1601.3,1278.5 1605.2,1278.0 1609.2,1277.4 1613.2,1276.8 1617.1,1276.3 1621.1,1276.1 1625.1,1276.4 1629.1,1276.7 1633.1,1277.1 1637.0,1277.5 1641.0,1277.9 1645.0,1278.3 1649.0,1278.6 1653.0,1278.5 1657.0,1278.1 1661.0,1277.8 1665.0,1277.4 1668.9,1277.1 1672.9,1277.1 1676.9,1277.6 1680.9,1278.1 1684.8,1278.7 1688.8,1279.3 1692.8,1279.8 1696.7,1280.4 1700.7,1281.1 1704.6,1281.8 1708.5,1282.6 1712.5,1283.4 1716.4,1284.2 1720.3,1285.1 1724.2,1286.0 1728.1,1287.0 1732.0,1288.0 1735.9,1288.9 1739.8,1289.8 1743.7,1290.5 1747.7,1291.1 1751.6,1291.6 1755.6,1292.2 1759.6,1292.4 1763.5,1292.1 1767.5,1291.6 1771.4,1291.0 1775.4,1290.4 1779.4,1289.9 1783.4,1289.6 1787.4,1289.4 1791.4,1289.2 1795.4,1288.9 1799.4,1288.7 1803.3,1288.2 1807.3,1287.7 1811.3,1287.2 1815.3,1286.7 1819.2,1286.1 1823.2,1285.6 1827.2,1285.1 1831.2,1284.9 1835.2,1285.0 1839.2,1285.1 1843.2,1285.3 1847.2,1285.4 1851.2,1285.5 1855.2,1285.7 1859.2,1285.8 1863.2,1286.1 1867.2,1286.3 1871.2,1286.6 1875.2,1286.9 1879.2,1287.1 1883.2,1287.4 1887.2,1287.5 1891.1,1287.3 1895.1,1286.6 1899.0,1285.8 1902.9,1285.0 1906.9,1284.3 1910.8,1283.7 1914.8,1283.4 1918.8,1283.2 1922.8,1282.9 1926.7,1282.7 1929.6,1282.5"/>
<polyline stroke="#008000" points="305.9,1373.4 308.3,1371.8 311.5,1369.6 314.8,1367.3 318.1,1365.1 321.3,1362.6 324.3,1359.9 327.1,1357.1 329.9,1354.2 332.4,1351.1 334.7,1347.9 336.9,1344.6 339.2,1341.3 341.5,1338.0 343.7,1334.6 345.9,1331.3 348.1,1327.9 349.9,1324.4 351.6,1320.7 353.0,1317.0 354.4,1313.2 355.7,1309.5 357.0,1305.7 358.3,1301.9 359.7,1298.1 361.0,1294.4 362.3,1290.6 363.6,1286.8 365.0,1283.0 366.3,1279.2 367.6,1275.5 368.9,1271.7 370.0,1267.8 371.1,1264.0 372.3,1260.1 373.4,1256.3 374.4,1252.4 375.4,1248.5 376.4,1244.6 377.3,1240.8 378.4,1236.9 379.5,1233.0 380.6,1229.2 381.8,1225.4 382.9,1221.5 384.0,1217.7 384.9,1213.8 385.9,1209.9 386.9,1206.0 387.9,1202.1 388.8,1198.2 389.6,1194.3 390.5,1190.4 391.3,1186.5 392.1,1182.6 393.0,1178.7 393.9,1174.8 394.7,1170.9 395.6,1166.9 396.5,1163.0 397.3,1159.1 398.2,1155.2 399.1,1151.3 400.0,1147.4 400.8,1143.5 401.7,1139.6 402.4,1135.6 403.2,1131.7 404.0,1127.8 404.7,1123.9 405.5,1119.9 406.3,1116.0 407.0,1112.1 407.8,1108.1 408.6,1104.2 409.4,1100.3 410.1,1096.3 410.9,1092.4 411.7,1088.5 412.5,1084.6 413.3,1080.6 414.1,1076.7 414.9,1072.8 415.7,1068.9 416.5,1064.9 417.3,1061.0 418.0,1057.1 418.7,1053.1 419.4,1049.2 420.1,1045.3 420.8,1041.3 421.5,1037.4 422.2,1033.4 422.9,1029.5 423.6,1025.5 424.3,1021.6 425.0,1017.7 425.8,1013.7 426.5,1009.8 427.3,1005.9 428.0,1001.9 428.9,998.0 429.8,994.1 430.7,990.2 431.5,986.3 432.4,982.4 433.2,978.5 434.0,974.5 434.7,970.6 435.4,966.7 436.1,962.7 436.8,958.8 437.5,954.8 438.2,950.9 438.9,946.9 439.6,943.0 440.3,939.1 441.0,935.1 441.7,931.2 442.5,927.2 443.2,923.3 443.9,919.4 444.6,915.4 445.4,911.5 446.1,907.6 446.8,903.6 447.5,899.7 448.2,895.7 448.8,891.8 449.5,887.8 450.1,883.9 450.8,879.9 451.4,876.0 452.0,872.0 452.7,868.1 453.3,864.1 454.0,860.2 454.6,856.2 455.3,852.2 455.9,848.3 456.5,844.3 457.2,840.4 457.8,836.4 458.5,832.5 459.1,828.5 459.8,824.6 460.4,820.6 461.0,816.7 461.7,812.7 462.3,808.8 463.0,804.8 463.6,800.9 464.3,796.9 464.9,793.0 465.5,789.0 466.2,785.1 466.8,781.1 467.4,777.1 468.1,773.2 468.7,769.2 469.3,765.3 469.9,761.3 470.5,757.4 471.1,753.4 471.7,749.4 472.4,745.5 473.0,741.5 473.6,737.6 474.2,733.6 474.8,729.7 475.5,725.7 476.1,721.7 476.7,717.8 477.3,713.8 477.9,709.9 478.6,705.9 479.2,702.0 479.8,698.0 480.5,694.1 481.2,690.1 481.9,686.2 482.6,682.2 483.2,678.3 483.9,674.3 484.6,670.4 485.3,666.4 486.0,662.5 486.7,658.6 487.5,654.6 488.3,650.7 489.1,646.8 490.0,642.9 490.8,639.0 491.6,635.0 492.4,631.1 493.2,627.2 494.0,623.3 494.9,619.4 495.8,615.5 496.7,611.6 497.7,607.7 498.6,603.8 499.6,599.9 500.5,596.0 501.5,592.1 502.4,588.2 503.3,584.3 504.3,580.4 505.2,576.6 506.2,572.7 507.1,568.8 508.0,564.9 509.0,561.0 509.8,557.1 510.6,553.1 511.4,549.2 512.1,545.3 512.9,541.3 513.7,537.4 514.5,533.5 515.2,529.6 516.1,525.7 517.2,521.8 518.4,518.0 519.6,514.2 520.9,510.4 522.1,506.6 523.3,502.7 524.6,498.9 525.8,495.1 527.1,491.3 528.3,487.5 529.6,483.7 530.9,479.9 532.1,476.1 533.5,472.4 535.0,468.7 536.5,465.0 538.0,461.3 539.4,457.5 540.4,453.6 541.4,449.8 542.4,445.9 543.6,442.1 545.0,438.3 546.3,434.5 547.8,430.8 549.4,427.1 551.1,423.5 552.9,419.9 554.8,416.4 556.9,413.0 559.5,410.3 562.9,408.3 566.5,407.3 570.1,408.0 573.6,409.8 577.1,411.5 580.9,412.5 584.7,413.6 588.1,415.5 591.2,417.9 594.3,420.5 597.1,423.3 599.9,426.2 602.5,429.3 604.7,432.5 606.7,436.0 608.6,439.5 610.3,443.1 612.0,446.8 613.7,450.4 615.5,453.9 617.9,457.1 620.6,460.0 623.1,463.0 625.0,466.5 626.3,470.2 627.6,474.0 628.9,477.8 630.2,481.6 631.5,485.4 632.8,489.1 634.4,492.8 636.4,496.2 638.4,499.7 640.0,503.4 641.4,507.1 642.7,510.9 644.0,514.7 645.2,518.5 646.4,522.3 647.5,526.2 648.7,530.0 649.9,533.8 651.1,537.6 652.3,541.4 653.7,545.2 655.1,548.9 656.6,552.6 658.1,556.4 659.6,560.1 661.1,563.8 662.6,567.5 664.1,571.2 665.6,575.0 667.0,578.7 668.1,582.5 669.0,586.4 669.9,590.3 670.8,594.2 671.9,598.1 673.1,601.9 674.4,605.7 675.6,609.5 676.9,613.3 678.2,617.1 679.4,620.9 680.6,624.7 681.7,628.6 682.7,632.4 683.8,636.3 684.8,640.2 685.8,644.0 686.9,647.9 687.9,651.8 688.9,655.6 690.1,659.5 691.5,663.2 693.1,666.9 694.7,670.6 696.2,674.2 697.8,677.9 699.3,681.6 700.7,685.4 702.0,689.2 703.2,693.0 704.4,696.8 705.6,700.6 706.8,704.5 708.0,708.3 709.0,712.1 710.1,716.0 711.2,719.9 712.3,723.7 713.4,727.6 714.5,731.4 715.6,735.3 716.7,739.1 717.8,743.0 718.9,746.8 720.0,750.6 721.0,754.5 721.9,758.4 722.6,762.4 723.4,766.3 724.1,770.2 724.9,774.2 725.7,778.1 726.5,782.0 727.6,785.8 729.0,789.6 730.4,793.3 731.9,797.1 733.3,800.8 734.8,804.5 736.5,808.1 738.2,811.8 739.9,815.4 741.5,819.0 742.8,822.8 744.0,826.6 745.0,830.5 746.1,834.4 747.2,838.2 748.3,842.1 749.4,845.9 750.4,849.8 751.5,853.6 752.6,857.5 753.7,861.3 754.9,865.2 756.0,869.0 757.2,872.8 758.4,876.7 759.6,880.5 760.7,884.3 762.0,888.1 763.5,891.7 765.7,895.1 767.9,898.4 769.8,901.9 771.2,905.6 772.5,909.4 773.8,913.1 775.1,916.9 776.4,920.7 777.7,924.5 779.0,928.3 780.4,932.1 781.8,935.8 783.6,939.4 785.5,942.9 787.4,946.4 789.3,950.0 791.1,953.5 792.8,957.2 794.5,960.8 796.1,964.4 797.8,968.1 799.4,971.7 801.1,975.4 802.8,979.0 804.4,982.7 806.1,986.3 807.8,989.9 809.4,993.6 811.1,997.2 812.7,1000.9 814.2,1004.6 815.7,1008.3 817.2,1012.0 818.6,1015.8 820.1,1019.5 821.8,1023.1 823.7,1026.6 825.7,1030.1 827.6,1033.6 829.6,1037.1 831.5,1040.6 833.4,1044.1 835.2,1047.7 837.3,1051.1 839.4,1054.5 841.6,1057.9 843.7,1061.3 845.9,1064.6 848.0,1068.0 850.1,1071.4 852.1,1074.9 853.9,1078.4 855.7,1082.0 857.5,1085.6 859.3,1089.2 861.1,1092.8 862.9,1096.4 864.7,1099.9 866.5,1103.5 868.6,1106.9 870.9,1110.2 873.3,1113.3 875.8,1116.5 878.2,1119.7 880.4,1123.0 882.5,1126.4 884.7,1129.8 886.8,1133.2 889.0,1136.5 891.4,1139.7 894.0,1142.8 896.7,1145.8 899.3,1148.7 902.0,1151.7 904.6,1154.7 907.1,1157.8 909.6,1161.0 912.2,1164.1 914.8,1167.1 917.4,1170.2 920.1,1173.1 922.9,1176.0 925.7,1178.8 928.6,1181.6 931.4,1184.4 934.3,1187.2 937.1,1190.0 939.9,1192.9 942.4,1196.0 945.1,1198.8 948.3,1201.0 951.5,1203.2 954.5,1205.9 957.3,1208.7 960.2,1211.5 963.1,1214.3 965.9,1217.1 968.9,1219.8 971.8,1222.6 974.7,1225.3 977.6,1228.0 980.7,1230.6 983.9,1233.0 987.2,1235.3 990.5,1237.5 993.8,1239.8 997.1,1242.1 1000.3,1244.4 1003.5,1246.8 1006.7,1249.3 1009.9,1251.7 1013.1,1254.0 1016.6,1255.9 1020.3,1257.3 1024.1,1258.7 1027.6,1260.5 1031.0,1262.6 1034.4,1264.7 1037.9,1266.7 1041.4,1268.5 1045.1,1270.1 1048.8,1271.6 1052.5,1273.1 1056.3,1274.5 1060.0,1275.9 1063.8,1277.3 1067.5,1278.7 1071.3,1280.2 1075.0,1281.6 1078.7,1283.2 1082.4,1284.7 1086.1,1286.2 1089.8,1287.7 1093.5,1289.1 1097.3,1290.5 1101.1,1291.6 1105.0,1292.5 1109.0,1293.1 1112.9,1293.8 1116.9,1294.6 1120.7,1295.5 1124.6,1296.6 1128.4,1297.8 1132.2,1299.0 1136.1,1300.2 1139.9,1301.4 1143.7,1302.6 1147.5,1303.8 1151.4,1304.8 1155.3,1305.7 1159.2,1306.2 1163.2,1306.7 1167.2,1307.1 1171.2,1307.5 1175.2,1307.9 1179.2,1308.3 1183.1,1308.8 1187.0,1309.6 1190.9,1310.6 1194.8,1311.6 1198.7,1312.5 1202.6,1312.8 1206.6,1312.7 1210.6,1312.7 1214.5,1313.4 1218.3,1314.5 1222.1,1315.7 1226.0,1316.8 1229.9,1317.7 1233.8,1318.2 1237.8,1318.5 1241.8,1318.8 1245.8,1319.0 1249.8,1319.2 1253.8,1319.1 1257.8,1319.0 1261.8,1319.0 1265.8,1319.1 1269.8,1319.2 1273.8,1319.3 1277.8,1319.4 1281.8,1319.5 1285.8,1319.7 1289.8,1319.8 1293.8,1320.0 1297.7,1320.6 1301.7,1320.9 1305.7,1320.9 1309.6,1320.6 1313.6,1320.4 1317.6,1320.2 1321.6,1320.1 1325.6,1320.2 1329.6,1320.6 1333.6,1320.9 1337.6,1321.3 1341.6,1321.7 1345.6,1322.1 1349.5,1322.5 1353.5,1322.9 1357.5,1323.3 1361.5,1323.6 1365.5,1323.7 1369.5,1323.8 1373.5,1323.8 1377.5,1323.9 1381.5,1324.0 1385.5,1324.0 1389.5,1324.1 1393.5,1324.2 1397.5,1324.2 1401.5,1324.2 1405.5,1324.2 1409.5,1324.1 1413.5,1324.0 1417.6,1323.9 1421.6,1323.9 1425.6,1323.8 1429.6,1323.7 1433.6,1323.6 1437.6,1323.7 1441.6,1323.7 1445.6,1323.8 1449.6,1323.8 1453.6,1323.7 1457.6,1323.4 1461.6,1323.2 1465.6,1322.9 1469.6,1322.8 1473.6,1322.7 1477.6,1322.9 1481.6,1323.1 1485.6,1323.3 1489.6,1323.4 1493.6,1323.6 1497.6,1323.7 1501.5,1323.5 1505.5,1322.8 1509.4,1322.0 1513.3,1321.2 1517.2,1320.4 1521.2,1319.7 1525.1,1319.1 1529.1,1319.2 1533.0,1319.6 1537.0,1320.1 1541.0,1320.6 1544.9,1321.1 1548.9,1321.5 1552.9,1321.4 1556.9,1320.9 1560.8,1320.4 1564.8,1319.9 1568.8,1319.4 1572.7,1319.2 1576.6,1319.7 1580.5,1320.6 1584.3,1321.2 1588.2,1320.8 1592.2,1320.1 1596.1,1319.4 1600.1,1318.8 1604.0,1318.3 1608.0,1317.9 1612.0,1317.5 1616.0,1317.1 1620.0,1316.7 1624.0,1316.3 1627.9,1316.0 1631.9,1316.0 1635.9,1316.3 1639.9,1316.7 1643.9,1317.1 1647.8,1317.3 1651.8,1316.9 1655.6,1316.0 1659.5,1314.9 1663.4,1314.2 1667.3,1314.2 1671.3,1314.6 1675.2,1315.1 1679.2,1315.5 1683.2,1316.0 1687.2,1316.4 1691.2,1316.9 1695.1,1317.2 1699.1,1317.4 1703.1,1317.1 1707.0,1316.6 1711.0,1316.0 1715.0,1315.4 1718.9,1315.0 1722.9,1315.0 1726.9,1315.2 1730.9,1315.5 1734.9,1315.7 1738.9,1316.0 1742.9,1316.3 1746.9,1316.5 1750.9,1316.8 1754.9,1317.1 1758.9,1317.3 1762.9,1317.6 1766.9,1317.9 1770.9,1318.1 1774.9,1318.4 1778.9,1318.5 1782.9,1318.4 1786.9,1318.2 1790.8,1317.9 1794.8,1317.7 1798.8,1317.4 1802.8,1317.1 1806.8,1316.9 1810.8,1316.7 1814.8,1316.7 1818.8,1316.7 1822.8,1316.7 1826.8,1316.7 1830.9,1316.7 1834.9,1316.7 1838.9,1316.7 1842.9,1316.7 1846.9,1316.7 1850.9,1316.9 1854.8,1317.3 1858.8,1317.7 1862.8,1318.1 1866.8,1318.5 1870.8,1318.9 1874.8,1319.3 1878.8,1319.6 1882.8,1319.6 1886.8,1319.5 1890.8,1319.4 1894.8,1319.4 1898.8,1319.3 1902.8,1319.2 1906.8,1319.1 1910.8,1319.0 1914.8,1318.9 1918.8,1318.8 1922.8,1318.7 1926.7,1318.7 1929.6,1318.6"/>
</g>
<text transform="translate(271 1411.5) scale(1 1.02)" font-size="54.6" text-anchor="end">0</text>
<text transform="translate(271 1192.8) scale(1 1.02)" font-size="54.6" text-anchor="end">100</text>
<text transform="translate(271 974.1) scale(1 1.02)" font-size="54.6" text-anchor="end">200</text>
<text transform="translate(271 755.5) scale(1 1.02)" font-size="54.6" text-anchor="end">300</text>
<text transform="translate(271 536.8) scale(1 1.02)" font-size="54.6" text-anchor="end">400</text>
<text transform="translate(271 318.1) scale(1 1.02)" font-size="54.6" text-anchor="end">500</text>
<text transform="translate(502 1587) scale(1 1.02)" font-size="54.6" text-anchor="middle">300</text>
<text transform="translate(975 1587) scale(1 1.02)" font-size="54.6" text-anchor="middle">350</text>
<text transform="translate(1449 1587) scale(1 1.02)" font-size="54.6" text-anchor="middle">400</text>
<text transform="translate(1924 1587) scale(1 1.02)" font-size="54.6" text-anchor="middle">450</text>
<text transform="translate(1118.2 1689.3) scale(1 1.04)" font-size="66.4" text-anchor="middle">Wavelength(nm)</text>
<text transform="translate(82.1 831) rotate(-90) scale(1 1.04)" font-size="65.2" text-anchor="middle">Intensity</text>
<rect x="1604.5" y="40.5" width="511" height="406" fill="none" stroke="#000" stroke-width="3"/>
<line x1="1651" y1="90.1" x2="1796" y2="90.1" stroke="#000000" stroke-width="7" stroke-linecap="round"/>
<text transform="translate(1814 112.8) scale(1 1.04)" font-size="65.5">INSULIN</text>
<line x1="1651" y1="169.8" x2="1796" y2="169.8" stroke="#ff0000" stroke-width="7" stroke-linecap="round"/>
<text transform="translate(1814 192.5) scale(1 1.04)" font-size="65.5">LD-INS</text>
<line x1="1651" y1="249.5" x2="1796" y2="249.5" stroke="#0000ff" stroke-width="7" stroke-linecap="round"/>
<text transform="translate(1814 272.2) scale(1 1.04)" font-size="65.5">F-40-INS</text>
<line x1="1651" y1="329.2" x2="1796" y2="329.2" stroke="#ff00ff" stroke-width="7" stroke-linecap="round"/>
<text transform="translate(1814 351.9) scale(1 1.04)" font-size="65.5">F-50-INS</text>
<line x1="1651" y1="408.9" x2="1796" y2="408.9" stroke="#008000" stroke-width="7" stroke-linecap="round"/>
<text transform="translate(1814 431.6) scale(1 1.04)" font-size="65.5">F-M-INS</text>
</svg></body></html>
